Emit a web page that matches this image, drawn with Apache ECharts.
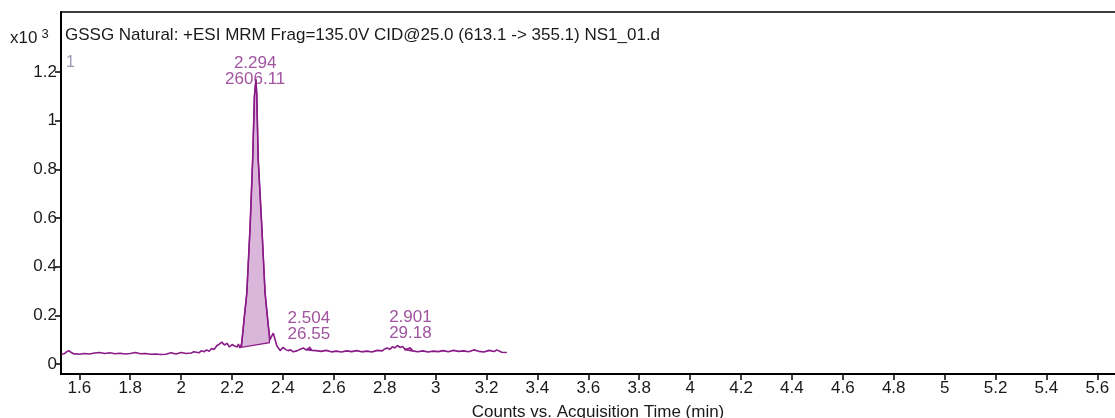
<!DOCTYPE html>
<html>
<head>
<meta charset="utf-8">
<script src="https://cdn.jsdelivr.net/npm/echarts@6/dist/echarts.min.js"></script>
<style>
html,body{margin:0;padding:0;background:#fff;}
#chart{width:1115px;height:418px;}
</style>
</head>
<body>
<div id="chart"></div>
<script>
// Acquisition time (min)
const times = [
  1.53,1.54,1.55,1.56,1.57,1.58,1.59,1.60,1.62,1.64,1.66,1.68,1.70,1.72,1.74,1.76,1.78,1.80,
  1.82,1.84,1.86,1.88,1.90,1.92,1.94,1.96,1.98,2.00,2.02,2.04,2.05,2.07,2.08,2.09,2.10,2.11,
  2.12,2.13,2.14,2.15,2.16,2.165,2.17,2.18,2.19,2.20,2.21,2.22,2.225,2.231,2.238,2.247,2.258,
  2.271,2.281,2.288,2.294,2.297,2.303,2.317,2.330,2.343,2.349,2.356,2.362,2.368,2.376,2.389,
  2.40,2.41,2.42,2.43,2.44,2.455,2.47,2.48,2.49,2.498,2.505,2.515,2.53,2.55,2.57,2.59,2.61,
  2.63,2.65,2.67,2.69,2.71,2.73,2.75,2.77,2.79,2.80,2.81,2.82,2.83,2.84,2.85,2.86,2.87,2.88,
  2.89,2.90,2.91,2.93,2.95,2.97,2.99,3.01,3.03,3.05,3.07,3.09,3.11,3.13,3.15,3.17,3.19,3.21,
  3.23,3.24,3.26,3.28
];
// Counts (x10^3)
const counts = [
  0.040,0.042,0.050,0.054,0.046,0.041,0.042,0.040,0.043,0.041,0.045,0.047,0.043,0.046,0.042,0.044,0.041,0.043,
  0.047,0.042,0.043,0.040,0.041,0.039,0.040,0.046,0.041,0.047,0.043,0.045,0.050,0.046,0.055,0.050,0.058,0.052,
  0.064,0.060,0.075,0.082,0.090,0.094,0.078,0.085,0.070,0.080,0.074,0.070,0.082,0.066,0.085,0.180,0.290,
  0.564,0.838,1.100,1.170,1.110,0.840,0.564,0.290,0.153,0.099,0.115,0.127,0.105,0.075,0.055,
  0.068,0.060,0.055,0.058,0.050,0.054,0.062,0.066,0.058,0.062,0.069,0.056,0.055,0.052,0.056,0.050,0.053,
  0.049,0.054,0.051,0.055,0.050,0.053,0.049,0.056,0.054,0.062,0.066,0.060,0.071,0.066,0.076,0.068,0.072,0.060,
  0.062,0.066,0.054,0.050,0.054,0.049,0.053,0.051,0.055,0.050,0.056,0.052,0.054,0.050,0.058,0.052,0.049,0.056,
  0.051,0.058,0.048,0.047
];
// Integrated peak regions: start/end time and baseline level at each end
const fillStart = [2.238, 2.494, 2.879];
const fillEnd = [2.347, 2.512, 2.906];
const fillBaseStart = [0.0686, 0.058, 0.059];
const fillBaseEnd = [0.0876, 0.056, 0.054];
// Peak annotations
const peakTimes = [2.291, 2.502, 2.901];
const peakLevels = [1.17, 0.062, 0.066];
const peakRT = ['2.294', '2.504', '2.901'];
const peakArea = ['2606.11', '26.55', '29.18'];
// Tick labels
const xTicks = [1.6,1.8,2,2.2,2.4,2.6,2.8,3,3.2,3.4,3.6,3.8,4,4.2,4.4,4.6,4.8,5,5.2,5.4,5.6];
const yTicks = [0,0.2,0.4,0.6,0.8,1,1.2];

const TRACE = '#8a1a88';
const LABEL = '#882886';
const FONT = 'Liberation Sans, Arial, sans-serif';
const FS = 17;

function interp(t){
  for(let i=0;i<times.length-1;i++){
    if(t>=times[i] && t<=times[i+1]){
      const f=(t-times[i])/(times[i+1]-times[i]);
      return counts[i]+f*(counts[i+1]-counts[i]);
    }
  }
  return counts[counts.length-1];
}

const chart = echarts.init(document.getElementById('chart'), null, {renderer:'canvas'});
chart.setOption({
  animation:false,
  backgroundColor:'#fff',
  textStyle:{fontFamily:FONT},
  title:[
    {text:'GSSG Natural: +ESI MRM Frag=135.0V CID@25.0 (613.1 -> 355.1) NS1_01.d',
     left:60, top:22, textStyle:{fontSize:FS,fontWeight:'normal',color:'#1a1a1a',fontFamily:FONT}},
    {text:'{a|x10}{b|3}', left:5, top:23,
     textStyle:{fontWeight:'normal',rich:{a:{fontSize:FS,fontWeight:'normal',color:'#1a1a1a',fontFamily:FONT},b:{fontSize:13,fontWeight:'normal',color:'#1a1a1a',verticalAlign:'top',padding:[0,0,7,4],fontFamily:FONT}}}},
    {text:'1', left:61, top:50, textStyle:{fontSize:16,fontWeight:'normal',color:'#9a9ab8',fontFamily:FONT}}
  ],
  grid:{left:61, top:12, right:-20, bottom:44, show:true, borderColor:'#000', borderWidth:1.5,
        backgroundColor:'#fff', outerBoundsMode:'none', containLabel:false},
  xAxis:{
    type:'value', min:1.528, max:5.748,
    splitLine:{show:false},
    axisLine:{show:true, onZero:false, lineStyle:{color:'#000', width:2}},
    axisTick:{show:true, length:6, customValues:xTicks, lineStyle:{color:'#000', width:1.5}},
    axisLabel:{customValues:xTicks, color:'#1a1a1a', fontSize:FS, margin:6, fontFamily:FONT},
    name:'Counts vs. Acquisition Time (min)', nameLocation:'middle', nameGap:30,
    nameTextStyle:{fontSize:FS, color:'#1a1a1a', fontFamily:FONT}
  },
  yAxis:{
    type:'value', min:-0.0411, max:1.4468,
    splitLine:{show:false},
    axisLine:{show:true, onZero:false, lineStyle:{color:'#000', width:2}},
    axisTick:{show:true, length:6, customValues:yTicks, lineStyle:{color:'#000', width:1.5}},
    axisLabel:{customValues:yTicks, color:'#1a1a1a', fontSize:FS, margin:4, fontFamily:FONT}
  },
  series:[
    {
      type:'custom', z:2, silent:true,
      data: fillStart.map((s,i)=>[s, fillEnd[i], fillBaseStart[i], fillBaseEnd[i]]),
      renderItem:function(params, api){
        const s=api.value(0), e=api.value(1), b0=api.value(2), b1=api.value(3);
        const pts=[api.coord([s, interp(s)])];
        for(let i=0;i<times.length;i++){
          if(times[i]>s && times[i]<e) pts.push(api.coord([times[i], counts[i]]));
        }
        pts.push(api.coord([e, interp(e)]));
        pts.push(api.coord([e, b1]));
        pts.push(api.coord([s, b0]));
        return {type:'polygon', shape:{points:pts},
          style:{fill:'#dbb6db', stroke:TRACE, lineWidth:1.3}};
      }
    },
    {
      type:'line', z:3, showSymbol:false, symbol:'none', silent:true,
      data: times.map((t,i)=>[t, counts[i]]),
      lineStyle:{color:TRACE, width:1.6}
    },
    {
      type:'scatter', z:4, symbolSize:0, silent:true,
      data: peakTimes.map((t,i)=>[t, peakLevels[i]]),
      label:{
        show:true, position:'top', color:LABEL, fontSize:FS, lineHeight:16, fontFamily:FONT,
        formatter:function(p){ return peakRT[p.dataIndex]+'\n'+peakArea[p.dataIndex]; },
        distance:7
      },
      labelLayout:function(p){
        if(p.dataIndex===0) return {dy:15};
        return {};
      }
    }
  ]
});
</script>
</body>
</html>
